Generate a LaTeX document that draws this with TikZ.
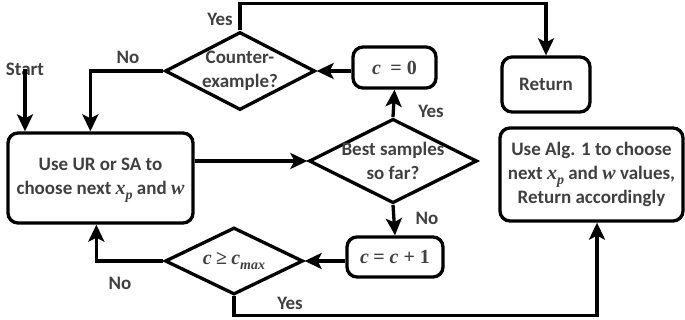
\documentclass[tikz,border=0pt]{standalone}
\usepackage{fontspec}
\setmainfont{Carlito}
\newfontfamily\mfont{Liberation Serif}
\usetikzlibrary{arrows.meta,shapes.geometric}
\definecolor{txt}{HTML}{404040}
\newcommand\mv[1]{{\mfont\fontsize{20}{23}\selectfont\bfseries\itshape #1}}
\newcommand\mr[1]{{\mfont\fontsize{20}{23}\selectfont\bfseries #1}}
\newcommand\sbs[1]{\raisebox{-0.5ex}{\mfont\fontsize{14}{14}\selectfont\itshape #1}}
\tikzset{
  every node/.style={text=txt, font=\fontsize{19}{24}\selectfont\bfseries},
  box/.style={draw=black, line width=3.3pt, rounded corners=10pt, align=center, inner sep=0pt},
  dia/.style={draw=black, line width=3.3pt, diamond, inner sep=-14pt, align=center},
  arr/.style={draw=black, line width=3.3pt, -{Stealth[length=17pt,width=16pt,inset=4pt]}},
  lab/.style={inner sep=0pt}
}
\begin{document}
\begin{tikzpicture}[x=1pt,y=-1pt]
\useasboundingbox (0,0) rectangle (685,320);
% nodes
\node[box, minimum width=185pt, minimum height=90pt] (ur) at (100.5,178)
  {\raisebox{-5pt}{\begin{tabular}{@{}c@{}}Use UR or SA to\\choose next \mv{x}\sbs{\bfseries p} and \mv{w}\end{tabular}}};
\node[dia, minimum width=150pt, minimum height=78pt] (ce) at (240,71)
  {Counter-\\example?};
\node[box, minimum width=83pt, minimum height=41pt] (c0) at (394.5,67.5)
  {\mv{c} \mr{ = 0}};
\node[box, minimum width=88pt, minimum height=55pt] (ret) at (546,84.5) {Return};
\node[dia, minimum width=168pt, minimum height=78pt] (best) at (393,161)
  {Best samples\\so far?};
\node[box, minimum width=96pt, minimum height=40pt] (cc1) at (395,257)
  {\mv{c} \mr{= }\mv{c}\mr{ + 1}};
\node[dia, minimum width=138pt, minimum height=67pt] (cm) at (234,261)
  {{\mfont\fontsize{20}{23}\selectfont\itshape c} {\mfont\fontsize{20}{23}\selectfont ≥} {\mfont\fontsize{20}{23}\selectfont\itshape c}\sbs{max}};
\node[box, minimum width=183pt, minimum height=93pt] (alg) at (591.5,174.5)
  {Use Alg. 1 to choose\\next \mv{x}\sbs{\bfseries p} and \mv{w} values,\\Return accordingly};
% labels
\node[lab] (start) at (25,69) {Start};
\node[lab] (lyes1) at (220,19) {Yes};
\node[lab] (lno1) at (128,57) {No};
\node[lab] (lyes2) at (431,111) {Yes};
\node[lab] (lno2) at (427,218) {No};
\node[lab] (lno3) at (120,283) {No};
\node[lab] (lyes3) at (290,303) {Yes};
% connectors
\draw[arr] ([yshift=6pt]start.south) -- (ur.north -| start);
\draw[arr] (ce.west) -| ([xshift=84pt]ur.north west);
\draw[arr] (ce.north) -- ++(0,-27) -| (ret.north);
\draw[arr] (c0.west |- ce.east) -- (ce.east);
\draw[arr] (ur.east |- best.west) -- (best.west);
\draw[arr] (best.north) -- (c0.south);
\draw[arr] (best.south) -- (cc1.north);
\draw[arr] (cc1.west |- cm.east) -- (cm.east);
\draw[arr] (cm.west) -| ([xshift=90pt]ur.south west);
\draw[arr] (cm.south) -- ++(0,19) -| ([xshift=5.5pt]alg.south);
\end{tikzpicture}
\end{document}
